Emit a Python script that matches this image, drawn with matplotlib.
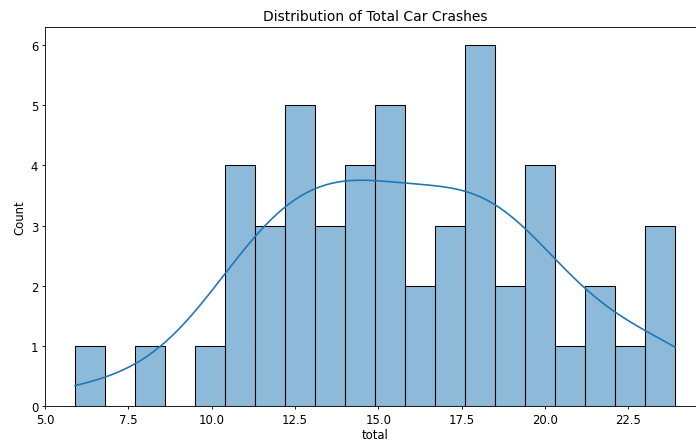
import matplotlib
matplotlib.use("Agg")
import matplotlib.pyplot as plt
import seaborn as sns
import pandas as pd

# car_crashes 'total' column (one value per state)
states = ['AL', 'AK', 'AZ', 'AR', 'CA', 'CO', 'CT', 'DE', 'DC', 'FL', 'GA', 'HI', 'ID',
          'IL', 'IN', 'IA', 'KS', 'KY', 'LA', 'ME', 'MD', 'MA', 'MI', 'MN', 'MS', 'MO',
          'MT', 'NE', 'NV', 'NH', 'NJ', 'NM', 'NY', 'NC', 'ND', 'OH', 'OK', 'OR', 'PA',
          'RI', 'SC', 'SD', 'TN', 'TX', 'UT', 'VT', 'VA', 'WA', 'WV', 'WI', 'WY']
total = [18.8, 18.1, 18.6, 22.4, 12.0, 13.6, 10.8, 16.2, 5.9, 17.9, 15.6, 17.5, 15.3,
         12.8, 14.5, 15.7, 17.8, 21.4, 20.5, 15.1, 12.5, 8.2, 14.1, 9.6, 17.6, 16.1,
         21.4, 14.9, 14.7, 11.6, 11.2, 18.4, 12.3, 16.8, 23.9, 14.1, 19.9, 12.8, 18.2,
         11.1, 23.9, 19.4, 19.5, 19.4, 11.3, 13.6, 12.7, 10.6, 23.8, 13.8, 17.4]

df = pd.DataFrame({'abbrev': states, 'total': total})

# the reference looks like a downscaled render, so bump text/lines a bit
plt.rcParams['font.size'] = 12
plt.rcParams['axes.linewidth'] = 0.9
plt.rcParams['xtick.major.width'] = 0.9
plt.rcParams['ytick.major.width'] = 0.9

fig = plt.figure(figsize=(10, 444 / 69.6), dpi=69.6)
ax = fig.add_axes([45 / 696, 37 / 444, 660 / 696, 379 / 444])

sns.histplot(df['total'], bins=20, kde=True, ax=ax, linewidth=1.1,
             line_kws={'linewidth': 1.7})
ax.set_title('Distribution of Total Car Crashes', pad=7)
ax.set_xlabel('total', labelpad=2)
ax.set_ylabel('Count')

fig.savefig('out.png', dpi=69.6)
